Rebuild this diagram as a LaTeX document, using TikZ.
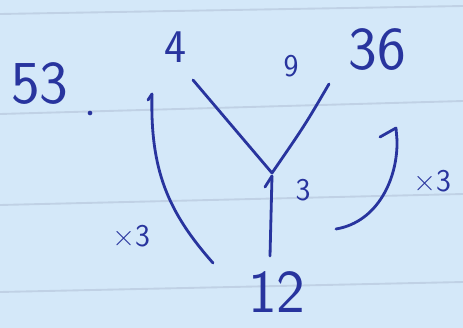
\documentclass[tikz,border=0pt]{standalone}
\usepackage{fontspec}
\usepackage{tikz}
\usepackage{xcolor}
\usetikzlibrary{positioning}

\definecolor{paper}{RGB}{212,232,249}
\definecolor{ruling}{RGB}{192,209,229}
\definecolor{ink}{RGB}{40,52,158}

\begin{document}
\begin{tikzpicture}[x=0.03cm, y=-0.03cm, line cap=round, line join=round,
    inkline/.style={ink, line width=2.4pt},
    bignum/.style={ink, inner sep=0pt, font=\sffamily\fontsize{52}{52}\selectfont},
    midnum/.style={ink, inner sep=0pt, font=\sffamily\fontsize{40}{40}\selectfont},
    smallnum/.style={ink, inner sep=0pt, font=\sffamily\fontsize{27}{27}\selectfont}]
  % Paper and its ruled lines
  \fill[paper] (0,0) rectangle (463,328);
  \useasboundingbox (0,0) rectangle (463,328);
  \draw[ruling, line width=1.6pt] (0,14) -- (463,6);
  \draw[ruling, line width=1.6pt] (0,114) -- (463,101);
  \draw[ruling, line width=1.6pt] (0,205) -- (463,194);
  \draw[ruling, line width=1.6pt] (0,292) -- (463,282);

  % Numbers
  \node[bignum] (fiftythree) at (40,84) {53};
  \node[circle, fill=ink, inner sep=1.4pt] (dot) at (90,113) {};
  \node[midnum] (four) at (176,47) {4};
  \node[smallnum] (nine) at (291,66) {9};
  \node[bignum] (thirtysix) at (377,50) {36};
  \node[smallnum] (three) at (303,190) {3};
  \node[bignum] (twelve) at (277,292) {12};
  \node[smallnum] (timesleft) at (131,236) {×3};
  \node[smallnum] (timesright) at (432,181) {×3};

  % The Y: two arms meet the stem
  \coordinate (junction) at (272,173);
  \coordinate (tipL) at (193,80);
  \coordinate (tipR) at (329,84);
  \coordinate (stemfoot) at (270,256);
  \draw[inkline] (tipL) -- (junction);
  \draw[inkline] (tipR) .. controls (305,125) .. (junction);
  \draw[inkline] (stemfoot) -- (272,176);
  \draw[inkline] (265,187) -- (272,176);

  % Arcs for the factors of 3
  \coordinate (arcLtop) at (152,94);
  \coordinate (arcLfoot) at (213,263);
  \draw[inkline] (148,100) -- (arcLtop);
  \draw[inkline] (arcLtop) .. controls (150,170) and (168,212) .. (arcLfoot);
  \coordinate (arcRtop) at (396,128);
  \coordinate (arcRfoot) at (336,229);
  \draw[inkline] (380,137) -- (arcRtop) -- (397,140);
  \draw[inkline] (397,140) .. controls (398,178) and (378,222) .. (arcRfoot);
\end{tikzpicture}
\end{document}
